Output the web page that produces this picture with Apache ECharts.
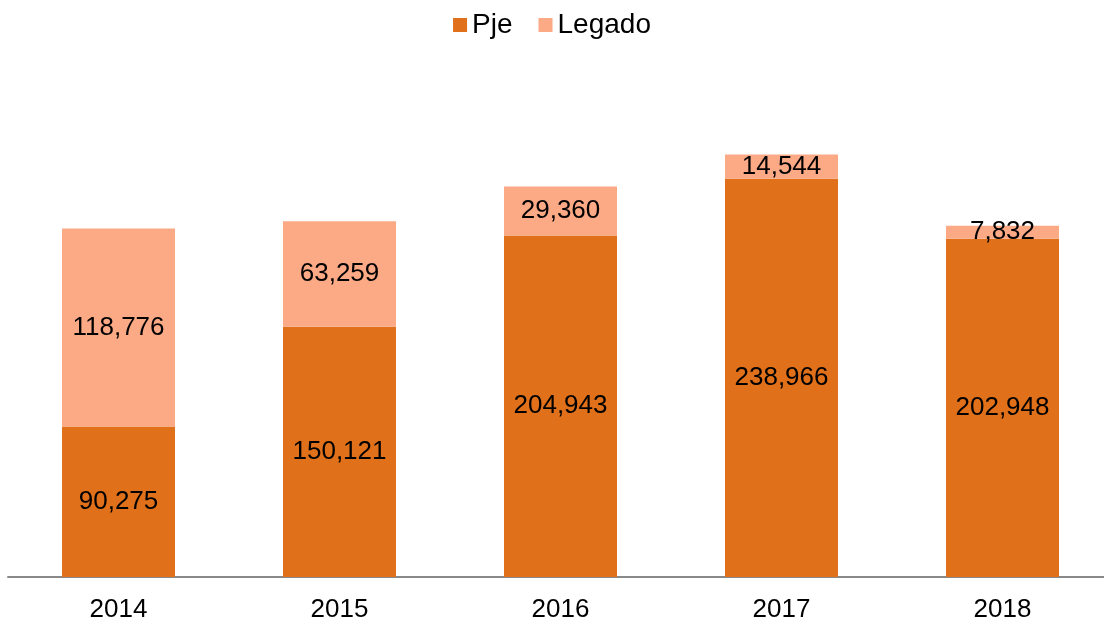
<!DOCTYPE html>
<html>
<head>
<meta charset="utf-8">
<script src="https://cdn.jsdelivr.net/npm/echarts@6/dist/echarts.min.js"></script>
<style>
  html, body { margin: 0; padding: 0; background: #fff; }
  #chart { width: 1104px; height: 621px; }
</style>
</head>
<body>
<div id="chart"></div>
<script>
  const years = ['2014', '2015', '2016', '2017', '2018'];
  const pje = [90275, 150121, 204943, 238966, 202948];
  const legado = [118776, 63259, 29360, 14544, 7832];

  const font = '"Liberation Sans", Arial, sans-serif';
  const fmt = function (p) { return p.value.toLocaleString('en-US'); };

  const chart = echarts.init(document.getElementById('chart'));
  chart.setOption({
    animation: false,
    textStyle: { fontFamily: font },
    legend: {
      top: 6,
      left: 'center',
      itemWidth: 14,
      itemHeight: 14,
      itemGap: 26,
      icon: 'rect',
      textStyle: { fontSize: 28, color: '#000', fontFamily: font },
      data: ['Pje', 'Legado']
    },
    grid: { left: 8, width: 1105, top: 77, bottom: 44, outerBoundsMode: 'none' },
    xAxis: {
      type: 'category',
      data: years,
      axisLine: { lineStyle: { color: '#888', width: 2 } },
      axisTick: { show: false },
      axisLabel: { fontSize: 26, color: '#000', margin: 20, fontFamily: font }
    },
    yAxis: {
      type: 'value',
      min: 0,
      max: 300000,
      show: false,
      splitLine: { show: false }
    },
    series: [
      {
        name: 'Pje',
        type: 'bar',
        stack: 'total',
        data: pje,
        barWidth: 113,
        itemStyle: { color: '#E07019' },
        label: { show: true, position: 'inside', fontSize: 26, color: '#000', formatter: fmt, fontFamily: font }
      },
      {
        name: 'Legado',
        type: 'bar',
        stack: 'total',
        data: legado,
        barWidth: 113,
        itemStyle: { color: '#FCA986' },
        label: { show: true, position: 'inside', fontSize: 26, color: '#000', formatter: fmt, fontFamily: font }
      }
    ]
  });
</script>
</body>
</html>
